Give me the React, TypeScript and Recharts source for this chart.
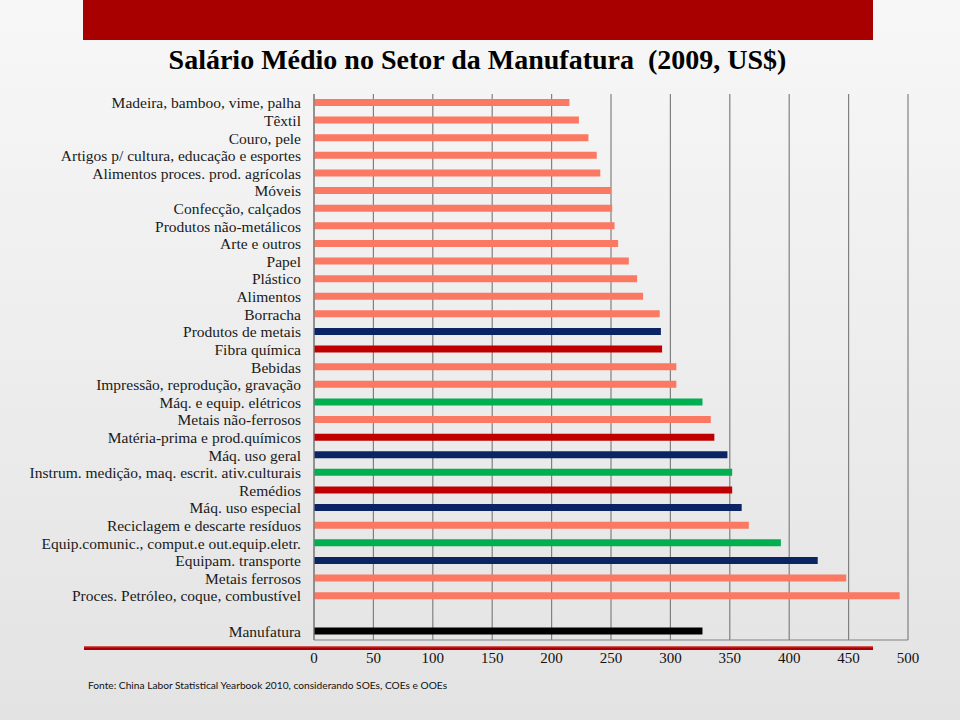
import { BarChart, Bar, XAxis, YAxis, CartesianGrid, Cell } from "recharts";

// categories, top to bottom; the blank one is the gap before the total
const sectors = [
  "Madeira, bamboo, vime, palha",
  "Têxtil",
  "Couro, pele",
  "Artigos p/ cultura, educação e esportes",
  "Alimentos proces. prod. agrícolas",
  "Móveis",
  "Confecção, calçados",
  "Produtos não-metálicos",
  "Arte e outros",
  "Papel",
  "Plástico",
  "Alimentos",
  "Borracha",
  "Produtos de metais",
  "Fibra química",
  "Bebidas",
  "Impressão, reprodução, gravação",
  "Máq. e equip. elétricos",
  "Metais não-ferrosos",
  "Matéria-prima e prod.químicos",
  "Máq. uso geral",
  "Instrum. medição, maq. escrit. ativ.culturais",
  "Remédios",
  "Máq. uso especial",
  "Reciclagem e descarte resíduos",
  "Equip.comunic., comput.e out.equip.eletr.",
  "Equipam. transporte",
  "Metais ferrosos",
  "Proces. Petróleo, coque, combustível",
  " ",
  "Manufatura",
];

// average wage, US$
const wages = [
  215, 223, 231, 238, 241, 250, 251, 253, 256, 265, 272, 277, 291, 292, 293,
  305, 305, 327, 334, 337, 348, 352, 352, 360, 366, 393, 424, 448, 493, null, 327,
];

// colour group of each bar: s salmon, n navy, r red, g green, k total
const groups = [
  "s", "s", "s", "s", "s", "s", "s", "s", "s", "s", "s", "s", "s", "n", "r",
  "s", "s", "g", "s", "r", "n", "g", "r", "n", "s", "g", "n", "s", "s", "s", "k",
];

const xTicks = [0, 50, 100, 150, 200, 250, 300, 350, 400, 450, 500];

const palette: Record<string, string> = {
  s: "#fb7863",
  n: "#0b2463",
  r: "#c00000",
  g: "#00b050",
  k: "#000000",
};

const data = sectors.map((name, i) => ({ name, v: wages[i], g: groups[i] }));

export default function App() {
  return (
    <div
      style={{
        position: "absolute",
        left: 0,
        top: 0,
        width: 960,
        height: 720,
        overflow: "hidden",
        background: "linear-gradient(#f7f7f7, #ececec 55%, #e3e3e3)",
      }}
    >
      <div
        style={{
          position: "absolute",
          left: 83,
          top: 0,
          width: 790,
          height: 40,
          background: "#a80000",
        }}
      />
      <div
        style={{
          position: "absolute",
          left: 0,
          top: 44,
          width: 955,
          textAlign: "center",
          fontFamily: "Liberation Serif, serif",
          fontWeight: 700,
          fontSize: 28,
          color: "#000",
          whiteSpace: "pre",
        }}
      >
        {"Salário Médio no Setor da Manufatura  (2009, US$)"}
      </div>

      <BarChart
        width={960}
        height={720}
        data={data}
        layout="vertical"
        margin={{ top: 94, right: 52, bottom: 50, left: 0 }}
        barCategoryGap={0}
        style={{ position: "absolute", left: 0, top: 0 }}
      >
        <CartesianGrid horizontal={false} stroke="#808080" strokeWidth={1.2} />
        <XAxis
          type="number"
          domain={[0, 500]}
          ticks={xTicks}
          height={30}
          tickSize={0}
          tickMargin={12}
          axisLine={{ stroke: "#808080", strokeWidth: 1.2 }}
          tick={{ fill: "#111", fontSize: 15, fontFamily: "Liberation Serif, serif" }}
        />
        <YAxis
          type="category"
          dataKey="name"
          width={314}
          interval={0}
          tickSize={0}
          tickMargin={13}
          axisLine={{ stroke: "#808080", strokeWidth: 1.2 }}
          tick={{ fill: "#1a1a1a", fontSize: 15.5, fontFamily: "Liberation Serif, serif" }}
        />
        <Bar dataKey="v" barSize={7} isAnimationActive={false}>
          {data.map((d, i) => (
            <Cell key={i} fill={palette[d.g]} />
          ))}
        </Bar>
      </BarChart>

      <div
        style={{
          position: "absolute",
          left: 84,
          top: 646,
          width: 789,
          height: 4,
          background: "linear-gradient(#e07070, #a80000 50%)",
        }}
      />
      <div
        style={{
          position: "absolute",
          left: 88,
          top: 679,
          fontFamily: "Lato, sans-serif",
          fontSize: 10.2,
          color: "#111",
        }}
      >
        Fonte: China Labor Statistical Yearbook 2010, considerando SOEs, COEs e OOEs
      </div>
    </div>
  );
}
